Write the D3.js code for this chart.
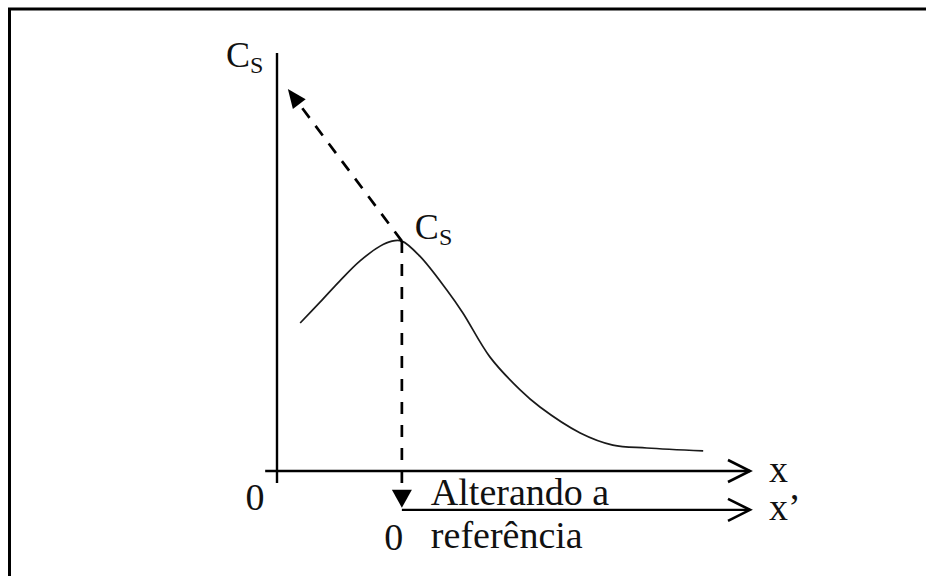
<!DOCTYPE html>
<html>
<head>
<meta charset="utf-8">
<script src="https://d3js.org/d3.v7.min.js"></script>
<style>
  html, body { margin: 0; padding: 0; background: #fff; overflow: hidden; }
  svg { display: block; }
  text { font-family: "Liberation Serif", "Times New Roman", serif; fill: #111; }
</style>
</head>
<body>
<div id="chart"></div>
<script>
// curve C_s(x) (arbitrary units, 0..10 on both axes)
var curveX = [0.49, 0.91, 1.33, 1.75, 2.18, 2.43, 2.64, 3.02, 3.59, 3.93, 4.50, 5.14, 5.56, 6.41, 7.10, 7.82, 9.01];
var curveY = [3.54, 4.04, 4.55, 5.02, 5.38, 5.50, 5.50, 5.14, 4.33, 3.78, 2.73, 1.94, 1.53, 0.91, 0.62, 0.55, 0.48];

// axes extents
var xAxisExtent = [-0.25, 10];
var yAxisExtent = [-0.29, 10];
var xPrimeLevel = -0.93;   // level of the shifted x' axis
var peakPoint = [2.64, 5.50]; // where the new reference starts
var diagonalTip = [0.23, 9.14];
var verticalTipY = -0.88;

// labels
var yLabel = ["C", "S"];
var peakLabel = ["C", "S"];
var xLabel = "x";
var xPrimeLabel = "x\u2019";
var zeroLabels = ["0", "0"];
var noteLines = ["Alterando a", "referência"];

var width = 926, height = 576;

var svg = d3.select("#chart")
    .append("svg")
    .attr("width", width)
    .attr("height", height);

// frame (only top and left edges show in the picture)
svg.append("path")
    .attr("d", "M9.5," + (height + 5) + " V9 H" + (width + 5))
    .attr("fill", "none")
    .attr("stroke", "#000")
    .attr("stroke-width", 3);

var x = d3.scaleLinear().domain([0, 10]).range([277, 750]);
var y = d3.scaleLinear().domain([0, 10]).range([471, 53]);

// open chevron arrow head, pointing right
function chevron(px, py) {
    svg.append("path")
        .attr("d", "M" + (px - 22) + "," + (py - 11) + " L" + px + "," + py + " L" + (px - 22) + "," + (py + 11))
        .attr("fill", "none")
        .attr("stroke", "#000")
        .attr("stroke-width", 2.6);
}

// filled triangle head, from (fx,fy) to tip (tx,ty); returns the base point
function triangleHead(fx, fy, tx, ty, len, half) {
    var dx = tx - fx, dy = ty - fy;
    var d = Math.sqrt(dx * dx + dy * dy);
    var ux = dx / d, uy = dy / d;
    var bx = tx - ux * len, by = ty - uy * len;
    svg.append("path")
        .attr("d", "M" + tx + "," + ty +
            " L" + (bx - uy * half) + "," + (by + ux * half) +
            " L" + (bx + uy * half) + "," + (by - ux * half) + " Z")
        .attr("fill", "#000");
    return [bx, by];
}

// y axis
svg.append("line")
    .attr("x1", x(0)).attr("x2", x(0))
    .attr("y1", y(yAxisExtent[0])).attr("y2", y(yAxisExtent[1]))
    .attr("stroke", "#000")
    .attr("stroke-width", 2.4);

// x axis
svg.append("line")
    .attr("x1", x(xAxisExtent[0])).attr("x2", x(xAxisExtent[1]))
    .attr("y1", y(0)).attr("y2", y(0))
    .attr("stroke", "#000")
    .attr("stroke-width", 2.4);
chevron(x(xAxisExtent[1]), y(0));

// x' axis, starting at the peak
svg.append("line")
    .attr("x1", x(peakPoint[0])).attr("x2", x(xAxisExtent[1]))
    .attr("y1", y(xPrimeLevel)).attr("y2", y(xPrimeLevel))
    .attr("stroke", "#000")
    .attr("stroke-width", 2.4);
chevron(x(xAxisExtent[1]), y(xPrimeLevel));

// the curve
var curveData = curveX.map(function(d, i) { return [d, curveY[i]]; });
var line = d3.line()
    .x(function(d) { return x(d[0]); })
    .y(function(d) { return y(d[1]); })
    .curve(d3.curveCatmullRom.alpha(0.5));

svg.append("path")
    .datum(curveData)
    .attr("d", line)
    .attr("fill", "none")
    .attr("stroke", "#1a1a1a")
    .attr("stroke-width", 1.7);

// dashed diagonal arrow from the peak
var diagBase = triangleHead(x(peakPoint[0]), y(peakPoint[1]), x(diagonalTip[0]), y(diagonalTip[1]), 19, 8);
svg.append("line")
    .attr("x1", x(peakPoint[0])).attr("y1", y(peakPoint[1]))
    .attr("x2", diagBase[0]).attr("y2", diagBase[1])
    .attr("stroke", "#000")
    .attr("stroke-width", 2.7)
    .attr("stroke-dasharray", "12,10");

// dashed vertical arrow down to the new origin
var vertBase = triangleHead(x(peakPoint[0]), y(peakPoint[1]), x(peakPoint[0]), y(verticalTipY), 18, 10);
svg.append("line")
    .attr("x1", x(peakPoint[0])).attr("y1", y(peakPoint[1]))
    .attr("x2", vertBase[0]).attr("y2", vertBase[1])
    .attr("stroke", "#000")
    .attr("stroke-width", 2.7)
    .attr("stroke-dasharray", "12,11");

// C_s labels
function csLabel(px, py, parts) {
    var t = svg.append("text")
        .attr("x", px)
        .attr("y", py)
        .style("font-size", "36px");
    t.append("tspan").text(parts[0]);
    t.append("tspan")
        .attr("dy", 6)
        .style("font-size", "24px")
        .text(parts[1]);
}
csLabel(x(0) - 51, y(10) + 14, yLabel);
csLabel(x(peakPoint[0]) + 13, y(peakPoint[1]) - 2, peakLabel);

// axis labels
svg.append("text")
    .attr("x", x(xAxisExtent[1]) + 19)
    .attr("y", y(0) + 11)
    .style("font-size", "38px")
    .text(xLabel);

svg.append("text")
    .attr("x", x(xAxisExtent[1]) + 19)
    .attr("y", y(xPrimeLevel) + 10)
    .style("font-size", "38px")
    .text(xPrimeLabel);

svg.append("text")
    .attr("x", x(0) - 22)
    .attr("y", y(0) + 39)
    .attr("text-anchor", "middle")
    .style("font-size", "38px")
    .text(zeroLabels[0]);

svg.append("text")
    .attr("x", x(peakPoint[0]) - 8)
    .attr("y", y(xPrimeLevel) + 40)
    .attr("text-anchor", "middle")
    .style("font-size", "38px")
    .text(zeroLabels[1]);

// note beside the shifted axis
svg.selectAll(".note")
    .data(noteLines)
    .enter()
    .append("text")
    .attr("class", "note")
    .attr("x", x(peakPoint[0]) + 29)
    .attr("y", function(d, i) { return y(xPrimeLevel) - 5 + i * 43; })
    .style("font-size", "38px")
    .text(function(d) { return d; });
</script>
</body>
</html>
